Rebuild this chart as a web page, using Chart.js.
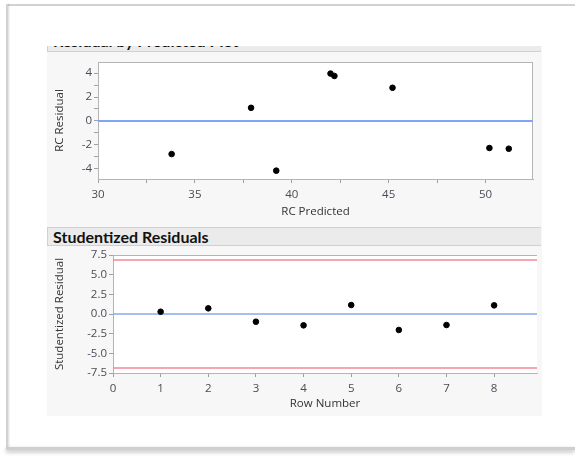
<!DOCTYPE html>
<html>
<head>
<meta charset="utf-8">
<script src="https://cdn.jsdelivr.net/npm/chart.js@4.4.0/dist/chart.umd.min.js"></script>
<style>
  html, body { margin: 0; padding: 0; background: #fff; overflow: hidden; }
  body { width: 575px; height: 457px; font-family: "Open Sans", sans-serif; }
  #page { position: absolute; left: 0; top: 0; width: 575px; height: 457px; overflow: hidden; }
  .edge { position: absolute; background: #d2d2d2; }
  #eTop { left: 6px; top: 4px; width: 569px; height: 2px; }
  #eLeft { left: 6px; top: 4px; width: 2px; height: 445px; box-shadow: 1px 0 2px rgba(0,0,0,0.15); }
  #eBottom { left: 6px; top: 447px; width: 569px; height: 3px; background: #cfcfcf; box-shadow: 0 2px 4px rgba(0,0,0,0.3); }
  #clip { position: absolute; left: 0; top: 0; width: 575px; height: 457px; clip-path: inset(46px 0 0 0); }
  .panel { position: absolute; left: 47px; top: 36px; width: 495px; height: 380px; background: #f7f7f7; }
  .header {
    position: absolute; left: 47px; width: 494px; background: #ebebeb;
    border-top: 1px solid #d0d0d0; border-bottom: 1px solid #d0d0d0; border-left: 1px solid #d0d0d0;
    font-family: Lato, sans-serif; font-weight: bold; font-size: 16px; color: #111;
    box-sizing: border-box; padding-left: 5px; white-space: nowrap;
  }
  #h1 { top: 30px; height: 22px; line-height: 20px; }
  #h2 { top: 227px; height: 19px; line-height: 17px; }
  canvas { position: absolute; }
  #c1 { left: 47px; top: 52px; }
  #c2 { left: 47px; top: 246px; }
</style>
</head>
<body>
<div id="page">
<div class="edge" id="eTop"></div>
<div class="edge" id="eLeft"></div>
<div class="edge" id="eBottom"></div>
<div id="clip">
  <div class="panel"></div>
  <div class="header" id="h1">Residual by Predicted Plot</div>
  <div class="header" id="h2">Studentized Residuals</div>
  <canvas id="c1" width="495" height="172"></canvas>
  <canvas id="c2" width="495" height="170"></canvas>
</div>
</div>
<script>
// top plot: residual vs predicted
const predicted = [33.8, 37.9, 39.2, 42.0, 42.2, 45.2, 50.2, 51.2];
const residual = [-2.78, 1.1, -4.17, 3.97, 3.77, 2.78, -2.27, -2.33];
// bottom plot: studentized residual by row
const rowNumber = [1, 2, 3, 4, 5, 6, 7, 8];
const studentized = [0.29, 0.72, -0.98, -1.44, 1.14, -2.03, -1.4, 1.1];
const limit = 6.85;

const tickFont = { family: 'Open Sans', size: 11.5 };
const tickColor = '#4b4b58';
const titleFont = { family: 'Open Sans', size: 11.5 };

const borderBox = {
    id: 'borderBox',
    beforeDraw(chart) {
        const a = chart.chartArea, ctx = chart.ctx;
        ctx.save();
        ctx.fillStyle = '#fff';
        ctx.fillRect(a.left, a.top, a.right - a.left, a.bottom - a.top);
        ctx.restore();
    },
    beforeDatasetsDraw(chart, args, opts) {
        const a = chart.chartArea, ctx = chart.ctx;
        ctx.save();
        ctx.strokeStyle = '#b4b4b4';
        ctx.lineWidth = 1;
        ctx.beginPath();
        ctx.moveTo(a.left, a.top + 0.5);
        ctx.lineTo(a.right, a.top + 0.5);
        if (opts.full) {
            ctx.moveTo(a.right - 0.5, a.top);
            ctx.lineTo(a.right - 0.5, a.bottom);
        }
        ctx.stroke();
        ctx.restore();
    }
};

function hLine(y, x0, x1, color, width) {
    return {
        type: 'line',
        data: [{ x: x0, y: y }, { x: x1, y: y }],
        borderColor: color,
        borderWidth: width,
        pointRadius: 0,
        order: 1
    };
}

function axis(min, max, step, labelFn, title, fitSize, isX) {
    return {
        type: 'linear',
        min: min,
        max: max,
        border: { display: true, color: '#b4b4b4' },
        grid: { drawOnChartArea: false, tickLength: 4, color: '#a0a0a0' },
        ticks: {
            stepSize: step,
            includeBounds: false,
            autoSkip: false,
            maxRotation: 0,
            padding: isX ? 5 : 2,
            color: tickColor,
            font: tickFont,
            callback: labelFn
        },
        title: { display: true, text: title, color: '#333', font: titleFont, padding: isX ? { top: 0, bottom: 5 } : { top: 6, bottom: 0 } },
        afterFit: s => { if (isX) s.height = fitSize; else s.width = fitSize; }
    };
}

const baseOptions = {
    responsive: false,
    animation: false,
    plugins: { legend: { display: false }, tooltip: { enabled: false } }
};

new Chart(document.getElementById('c1'), {
    type: 'scatter',
    data: {
        datasets: [
            {
                data: predicted.map((p, i) => ({ x: p, y: residual[i] })),
                backgroundColor: '#000',
                borderColor: '#000',
                pointRadius: 2.8,
                order: 0
            },
            hLine(0, 30, 52.45, '#7ea6f2', 2)
        ]
    },
    options: {
        ...baseOptions,
        layout: { padding: { top: 10, right: 9, left: 0, bottom: 0 } },
        plugins: { ...baseOptions.plugins, borderBox: { full: true } },
        scales: {
            x: axis(30, 52.45, 2.5, v => v % 5 === 0 ? String(v) : '', 'RC Predicted', 45, true),
            y: axis(-4.87, 4.94, 1, v => v % 2 === 0 ? String(v) : '', 'RC Residual', 51, false)
        }
    },
    plugins: [borderBox]
});

new Chart(document.getElementById('c2'), {
    type: 'scatter',
    data: {
        datasets: [
            {
                data: rowNumber.map((r, i) => ({ x: r, y: studentized[i] })),
                backgroundColor: '#000',
                borderColor: '#000',
                pointRadius: 2.8,
                order: 0
            },
            hLine(0, 0, 8.9, '#86aaf0', 1.5),
            hLine(limit, 0, 8.9, '#f08a96', 1.5),
            hLine(-limit, 0, 8.9, '#f08a96', 1.5)
        ]
    },
    options: {
        ...baseOptions,
        layout: { padding: { top: 9, right: 1, left: 0, bottom: 0 } },
        plugins: { ...baseOptions.plugins, borderBox: { full: false } },
        scales: {
            x: axis(0, 8.9, 1, v => String(v), 'Row Number', 43, true),
            y: axis(-7.5, 7.5, 2.5, v => v.toFixed(1), 'Studentized Residual', 66, false)
        }
    },
    plugins: [borderBox]
});
</script>
</body>
</html>
